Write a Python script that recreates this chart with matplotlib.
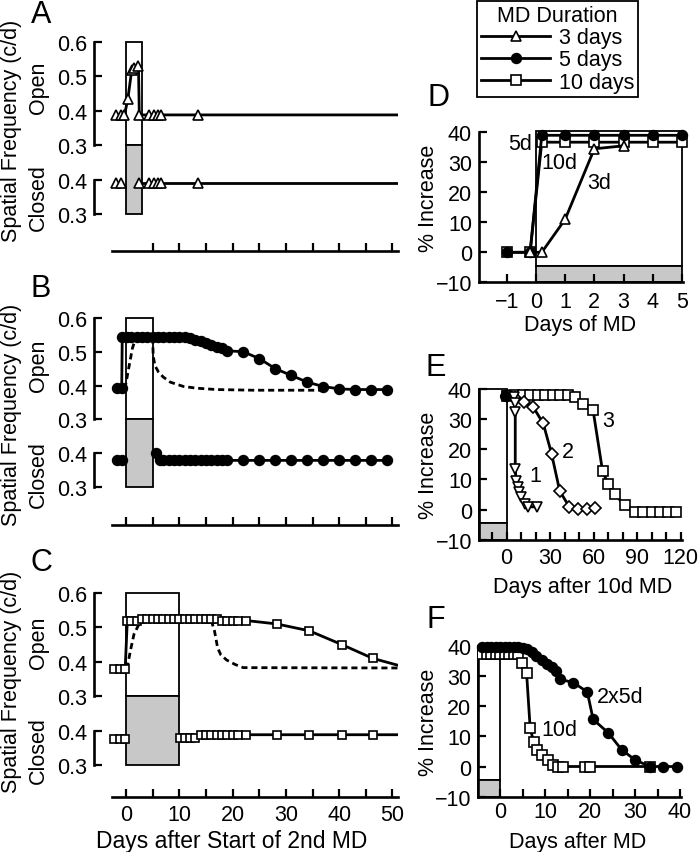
import matplotlib
matplotlib.use("Agg")
import matplotlib.pyplot as plt
import matplotlib.transforms as mtrans
from matplotlib.patches import Rectangle
from matplotlib.lines import Line2D
import numpy as np

plt.rcParams['font.family'] = ['Liberation Sans', 'DejaVu Sans']
plt.rcParams['font.size'] = 15.5
plt.rcParams['axes.linewidth'] = 1.9

# ---------------- data ----------------
md_labels = ['3 days', '5 days', '10 days']
md_durations = [3, 5, 10]

open_tick_vals = [0.3, 0.4, 0.5, 0.6]
closed_tick_vals = [0.3, 0.4]

# Panel A (3 d MD, triangles)
a_open_x = [-1.94, -1.0, -0.28, 0.34, 1.09, 1.5, 2.34, 2.5, 4.4, 5.2, 6.1, 6.6, 13.5, 51]
a_open_y = [0.388, 0.388, 0.388, 0.433, 0.52, 0.525, 0.53, 0.388, 0.388, 0.388, 0.388, 0.388, 0.388, 0.388]
a_closed_pre_x = [-1.94, -1.0]
a_closed_pre_y = [0.39, 0.39]
a_closed_post_x = [2.5, 4.4, 5.2, 6.1, 6.6, 13.5, 51]
a_closed_post_y = [0.39, 0.39, 0.39, 0.39, 0.39, 0.39, 0.39]

# Panel B (5 d MD, filled circles)
b_open_x = [-1.75, -0.8, -0.7, 0.2, 1, 2, 3, 4, 5, 6, 7, 8, 9, 10, 11, 12, 13, 14, 15, 16, 17, 18, 19,
            22, 25, 28, 31, 34, 37, 40, 43, 46, 49]
b_open_y = [0.393, 0.393, 0.545, 0.545, 0.545, 0.545, 0.545, 0.545, 0.545, 0.545, 0.545, 0.545, 0.545, 0.545,
            0.543, 0.54, 0.536, 0.532, 0.527, 0.52, 0.515, 0.51, 0.503,
            0.5, 0.48, 0.45, 0.43, 0.41, 0.397, 0.39, 0.388, 0.388, 0.388]
b_closed_pre_x = [-1.75, -0.8]
b_closed_pre_y = [0.38, 0.38]
b_closed_post_x = [5.6, 6.4, 7, 8, 9, 10, 11, 12, 13, 14, 15, 16, 17, 18, 19, 22, 25, 28, 31, 34, 37, 40, 43, 46, 49]
b_closed_post_y = [0.4, 0.378, 0.378, 0.378, 0.378, 0.378, 0.378, 0.378, 0.379, 0.379, 0.378, 0.378, 0.378,
                   0.378, 0.378, 0.378, 0.378, 0.378, 0.378, 0.378, 0.378, 0.378, 0.378, 0.378, 0.378]
b_model_x = [-0.2, 0.5, 1.2, 1.8, 2.5, 5.0, 5.1, 5.4, 6.1, 7.0, 8.3, 10.8, 13.3, 17, 24, 37]
b_model_y = [0.39, 0.45, 0.51, 0.54, 0.545, 0.545, 0.49, 0.46, 0.44, 0.425, 0.41, 0.397, 0.392, 0.388, 0.386, 0.386]

# Panel C (10 d MD, open squares)
c_open_x = [-2.2, -1.2, -0.15, 0.25, 1, 2, 3, 4, 5, 6, 7, 8, 9, 10, 11, 12, 13, 14, 15, 16, 17,
            18, 19, 20, 21, 22.5, 28.3, 34.4, 40.5, 46.3, 51]
c_open_y = [0.38, 0.38, 0.38, 0.52, 0.52, 0.52, 0.525, 0.525, 0.525, 0.525, 0.525, 0.525, 0.525, 0.525,
            0.525, 0.525, 0.525, 0.525, 0.525, 0.525, 0.525, 0.52, 0.52, 0.52, 0.52, 0.52,
            0.51, 0.49, 0.45, 0.41, 0.39]
c_closed_pre_x = [-2.2, -1.2, -0.15]
c_closed_pre_y = [0.375, 0.375, 0.375]
c_closed_post_x = [10.1, 11, 12, 13, 14, 15, 16, 17, 18, 19, 20, 21, 22.5, 28.3, 34.4, 40.5, 46.3, 51]
c_closed_post_y = [0.379, 0.379, 0.379, 0.379, 0.388, 0.388, 0.388, 0.388, 0.388, 0.388, 0.388, 0.388,
                   0.388, 0.388, 0.388, 0.388, 0.388, 0.388]
c_model_x = [0.2, 0.8, 1.5, 2.3, 3.2, 16.0, 16.6, 17.2, 17.8, 18.9, 20.5, 22.0, 51]
c_model_y = [0.38, 0.43, 0.48, 0.505, 0.52, 0.52, 0.49, 0.44, 0.42, 0.405, 0.392, 0.383, 0.382]

# Panel D (% increase during MD)
d_x_3d = [-0.2, 0.2, 1, 2, 3]
d_y_3d = [0, 0, 11, 34.5, 35.5]
d_x_5d = [-1, -0.2, 0.2, 1, 2, 3, 4, 5]
d_y_5d = [0, 0, 39, 39, 39, 39, 39, 39]
d_x_10d = [-1, -0.2, 0.2, 1, 2, 3, 4, 5]
d_y_10d = [0, 0, 36.7, 36.7, 36.7, 36.7, 36.7, 36.7]
d_curve_labels = ['5d', '10d', '3d']

# Panel E (after 10d MD, three repetitions)
e_start_x = [-1]
e_start_y = [37.6]
e1_x = [0, 5, 5.5, 6, 6, 6.6, 7.6, 8.7, 10.3, 12.6, 14.9, 20.7]
e1_y = [37.6, 37.5, 35.3, 32.5, 13.4, 9.6, 7.4, 5.8, 4.1, 2.0, 0.9, 0.9]
e2_x = [0, 6, 12, 18.4, 25.3, 31, 36.7, 43.3, 49.4, 55.2, 61]
e2_y = [37.6, 37, 35.7, 34, 28.6, 18.6, 6.1, 0.9, 0.3, 0.3, 0.6]
e3_x = [0, 5, 11, 16, 21.8, 26.4, 31.7, 37.2, 42.5, 47.5, 52.8, 59.7, 66.2, 70, 74.7, 81.6,
        88.5, 94.2, 100, 105.7, 111.5, 117.2]
e3_y = [37.6, 38, 38, 38, 38, 38, 38, 38, 38, 37.5, 35, 32.9, 12.8, 8.5, 5, 1.4,
        -0.8, -0.8, -0.8, -0.8, -0.8, -0.8]
e_curve_labels = ['1', '2', '3']

# Panel F (after MD: 2x5d vs 10d)
f_2x5_x = [-4, -3, -2, -1, 0, 1, 2, 3, 4, 5, 5.9, 7, 8.1, 9.3, 10.4, 11.5, 12.4, 13.3, 16.3, 19.4,
           20.7, 24.1, 27, 30, 33.3, 36.3, 39.3]
f_2x5_y = [39.5, 39.5, 39.5, 39.5, 39.5, 39.5, 39.5, 39.5, 39.5, 39.3, 38.9, 37.8, 36.5, 35.3, 34.1,
           32.8, 31.7, 28.9, 27.8, 24.7, 15.6, 11.1, 5.6, 2.2, 0, 0, 0]
f_10_x = [-4, -3, -2, -1, 0, 1, 2, 3, 4, 4.8, 5.9, 6.7, 7.5, 8.3, 9.4, 10.6, 11.7, 12.8, 14, 18.9, 20.1, 33.3]
f_10_y = [37.3, 37.3, 37.3, 37.3, 37.3, 37.3, 37.3, 37.3, 37.3, 34.4, 31.1, 12.8, 8, 5.6, 3.9, 2.2,
          0.6, 0, 0, 0, 0, 0]
f_curve_labels = ['2x5d', '10d']

# ---------------- figure ----------------
W, H = 699, 853
fig = plt.figure(figsize=(W / 100, H / 100), dpi=100)
GRAY = '#c8c8c8'
LW = 2.0
MEW = 1.2
CLOSED_SHIFT = -0.2


def rect_px(left, top, right, bottom):
    return [left / W, 1 - bottom / H, (right - left) / W, (bottom - top) / H]


def ftext(px, py, s, **kw):
    fig.text(px / W, 1 - py / H, s, ha='center', va='center', **kw)


def style_series(marker, ms, face):
    return dict(color='k', lw=LW, marker=marker, ms=ms, mfc=face, mec='k', mew=MEW)


def left_panel(top, bottom, ylim, dur, marker, ms, face, open_xy, closed_pre, closed_post,
               model=None, first_tick=0, show_labels=False):
    ax = fig.add_axes(rect_px(94, top, 94 + 57 * 5.33, bottom))
    ax.set_xlim(-6, 51)
    ax.set_ylim(*ylim)
    ax.add_patch(Rectangle((0, 0.3), dur, 0.3, facecolor='white', edgecolor='k', lw=1.3, zorder=1))
    ax.add_patch(Rectangle((0, 0.1), dur, 0.2, facecolor=GRAY, edgecolor='k', lw=1.3, zorder=1))
    st = style_series(marker, ms, face)
    if model is not None:
        ax.plot(model[0], model[1], color='k', lw=LW, dashes=(2.2, 1.4), zorder=2)
    ox, oy = open_xy
    last_marked = len(ox) - 1 if ox[-1] > 50 else len(ox)
    ax.plot(ox, oy, markevery=list(range(last_marked)), zorder=3, **st)
    ax.plot(closed_pre[0], np.array(closed_pre[1]) + CLOSED_SHIFT, zorder=3, **st)
    cx, cy = closed_post
    last_marked = len(cx) - 1 if cx[-1] > 50 else len(cx)
    ax.plot(cx, np.array(cy) + CLOSED_SHIFT, markevery=list(range(last_marked)), zorder=3, **st)

    ypos = [v + CLOSED_SHIFT for v in closed_tick_vals] + open_tick_vals
    ylab = ['%.1f' % v for v in closed_tick_vals + open_tick_vals]
    ax.set_yticks(ypos)
    ax.set_yticklabels(ylab)
    for s in ['top', 'right', 'left']:
        ax.spines[s].set_visible(False)
    ax.spines['bottom'].set_bounds(-2.7, 51)
    tr = mtrans.blended_transform_factory(ax.transAxes, ax.transData)
    ax.plot([0, 0], [0.3, 0.6], transform=tr, color='k', lw=1.9, clip_on=False, solid_capstyle='projecting')
    ax.plot([0, 0], [0.1, 0.2], transform=tr, color='k', lw=1.9, clip_on=False, solid_capstyle='projecting')
    xt = list(range(first_tick, 51, 5))
    ax.set_xticks(xt)
    if show_labels:
        ax.set_xticklabels([str(t) if t % 10 == 0 else '' for t in xt])
    else:
        ax.set_xticklabels([])
    ax.tick_params(axis='both', direction='in', length=5.5, width=1.6)
    ax.tick_params(axis='y', pad=5)
    ax.tick_params(axis='x', pad=5)
    return ax


# A
axA = left_panel(36.1, 251.8, (-0.007, 0.62), md_durations[0], '^', 7, 'white',
                 (a_open_x, a_open_y), (a_closed_pre_x, a_closed_pre_y), (a_closed_post_x, a_closed_post_y),
                 first_tick=5)
# B
axB = left_panel(312.3, 525.8, (-0.013, 0.62), md_durations[1], 'o', 7, 'black',
                 (b_open_x, b_open_y), (b_closed_pre_x, b_closed_pre_y), (b_closed_post_x, b_closed_post_y),
                 model=(b_model_x, b_model_y))
# C
axC = left_panel(587.1, 798, (0.007, 0.62), md_durations[2], 's', 5.6, 'white',
                 (c_open_x, c_open_y), (c_closed_pre_x, c_closed_pre_y), (c_closed_post_x, c_closed_post_y),
                 model=(c_model_x, c_model_y), show_labels=True)

for cy, oy, cly in [(131, 88, 198), (415, 366, 475), (682, 643, 751)]:
    ftext(12, cy, 'Spatial Frequency (c/d)', rotation=90)
    ftext(38, oy, 'Open', rotation=90)
    ftext(38, cly, 'Closed', rotation=90)
ftext(232, 842, 'Days after Start of 2nd MD', fontsize=16.5)


def right_axes(left, top, right, bottom, xlim, ylim):
    ax = fig.add_axes(rect_px(left, top, right, bottom))
    ax.set_xlim(*xlim)
    ax.set_ylim(*ylim)
    for s in ['top', 'right']:
        ax.spines[s].set_visible(False)
    ax.spines['left'].set_bounds(-10, 40)
    ax.set_yticks([-10, 0, 10, 20, 30, 40])
    ax.set_yticklabels(['\u221210', '0', '10', '20', '30', '40'])
    ax.tick_params(axis='both', direction='in', length=5.5, width=1.6)
    ax.tick_params(axis='y', pad=5)
    return ax


# D
axD = right_axes(479, 128.8, 479 + 7 * 29.2, 283.3, (-1.95, 5.05), (-10, 41.5))
axD.add_patch(Rectangle((0, -4.5), 5, 45, facecolor='white', edgecolor='k', lw=1.3, zorder=1))
axD.add_patch(Rectangle((0, -10), 5, 5.5, facecolor=GRAY, edgecolor='k', lw=1.3, zorder=1))
axD.plot(d_x_10d, d_y_10d, zorder=3, clip_on=False, **style_series('s', 6.5, 'white'))
axD.plot(d_x_5d, d_y_5d, zorder=4, clip_on=False, **style_series('o', 7, 'black'))
axD.plot(d_x_3d, d_y_3d, zorder=5, clip_on=False, **style_series('^', 7, 'white'))
axD.set_xticks([-1, 0, 1, 2, 3, 4, 5])
axD.set_xticklabels(['\u22121', '0', '1', '2', '3', '4', '5'])
axD.tick_params(axis='x', pad=6)
axD.text(-0.12, 36.3, d_curve_labels[0], ha='right', va='center', zorder=6)
axD.text(0.79, 29.9, d_curve_labels[1], ha='center', va='center', zorder=6)
axD.text(2.16, 23.3, d_curve_labels[2], ha='center', va='center', zorder=6)
ftext(429, 198, '% Increase', rotation=90)
ftext(580, 325, 'Days of MD')

# E
axE = right_axes(479, 387, 479 + 140 * 1.45, 540.7, (-19, 121), (-10, 41))
axE.add_patch(Rectangle((-19, -4.5), 19, 44.5, facecolor='white', edgecolor='k', lw=1.3, zorder=1, clip_on=False))
axE.add_patch(Rectangle((-19, -10), 19, 5.5, facecolor=GRAY, edgecolor='k', lw=1.3, zorder=1, clip_on=False))
axE.plot(e3_x, e3_y, zorder=3, **style_series('s', 6.5, 'white'))
axE.plot(e2_x, e2_y, zorder=3, **style_series('D', 6, 'white'))
axE.plot(e1_x, e1_y, zorder=3, **style_series('v', 7, 'white'))
axE.plot(e_start_x, e_start_y, 'o', color='k', ms=7, zorder=4)
axE.set_xticks(list(range(-10, 121, 10)))
axE.set_xticklabels([str(t) if t % 30 == 0 and t >= 0 else '' for t in range(-10, 121, 10)])
axE.tick_params(axis='x', pad=5)
axE.text(19.5, 11.2, e_curve_labels[0], ha='center', va='center')
axE.text(42.5, 19.3, e_curve_labels[1], ha='center', va='center')
axE.text(70, 29.6, e_curve_labels[2], ha='center', va='center')
ftext(429, 465, '% Increase', rotation=90)
ftext(583, 587, 'Days after 10d MD')

# F
axF = right_axes(478.4, 643.7, 478.4 + 45.1 * 4.5, 797.7, (-4.8, 40.3), (-10, 41))
axF.add_patch(Rectangle((-4.8, -4.5), 4.8, 44.5, facecolor='white', edgecolor='k', lw=1.3, zorder=1, clip_on=False))
axF.add_patch(Rectangle((-4.8, -10), 4.8, 5.5, facecolor=GRAY, edgecolor='k', lw=1.3, zorder=1, clip_on=False))
axF.plot(f_10_x, f_10_y, zorder=3, **style_series('s', 6.5, 'white'))
axF.plot(f_2x5_x, f_2x5_y, zorder=4, clip_on=False, **style_series('o', 7, 'black'))
axF.set_xticks(list(range(0, 41, 5)))
axF.set_xticklabels([str(t) if t % 10 == 0 else '' for t in range(0, 41, 5)])
axF.tick_params(axis='x', pad=3)
axF.text(26.7, 23.3, f_curve_labels[0], ha='center', va='center')
axF.text(13.1, 12.2, f_curve_labels[1], ha='center', va='center')
ftext(429, 722, '% Increase', rotation=90)
ftext(578, 843, 'Days after MD')

# panel letters
for letter, px, py in [('A', 41, 15), ('B', 41, 289), ('C', 41, 563),
                       ('D', 438, 98), ('E', 436, 368), ('F', 436, 620)]:
    ftext(px, py, letter, fontsize=22)

# legend
handles = [Line2D([], [], **style_series('^', 7, 'white')),
           Line2D([], [], **style_series('o', 7, 'black')),
           Line2D([], [], **style_series('s', 6.5, 'white'))]
leg = fig.legend(handles, md_labels, title='MD Duration', loc='upper left',
                 bbox_to_anchor=(477 / W, 1 - 2 / H), frameon=True, fancybox=False,
                 edgecolor='k', framealpha=1, handlelength=3.2, handletextpad=0.4,
                 labelspacing=0.05, borderpad=0.2, borderaxespad=0, title_fontsize=15.5)
leg.get_frame().set_linewidth(1.3)

fig.savefig('out.png', dpi=100)
